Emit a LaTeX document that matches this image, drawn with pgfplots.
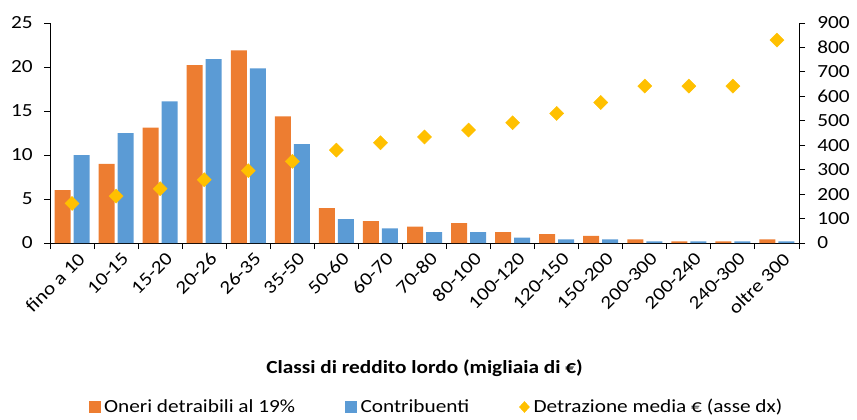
\documentclass[border=0pt]{standalone}
\usepackage{fontspec}
\setmainfont{Carlito}[FakeStretch=1.15]
\usepackage{pgfplots}
\pgfplotsset{compat=1.18}
\definecolor{cOr}{HTML}{ED7D31}
\definecolor{cBl}{HTML}{5B9BD5}
\definecolor{cYe}{HTML}{FFC000}
\begin{document}
\fontsize{18.5pt}{21pt}\selectfont
\begin{tikzpicture}
\path (-50pt,-174pt) rectangle (807pt,243pt);
\begin{axis}[
  scale only axis, width=749pt, height=220pt,
  xmin=-0.5, xmax=16.5, ymin=0, ymax=25,
  axis x line*=bottom, axis y line*=left,
  axis line style={black, line width=0.9pt},
  every tick/.style={black, line width=0.9pt},
  ytick={0,5,...,25},
  xtick={0,...,16},
  xticklabels={fino a 10,10-15,15-20,20-26,26-35,35-50,50-60,60-70,70-80,80-100,100-120,120-150,150-200,200-300,200-240,240-300,oltre 300},
  major x tick style={draw=none},
  minor xtick={-0.5,0.5,...,16.5},
  tick align=outside,
  major tick length=6pt, minor tick length=6pt,
  /pgf/number format/assume math mode=true,
  tick label style={font=\fontsize{18.5pt}{21pt}\selectfont},
  y tick label style={xshift=-5pt},
  x tick label style={rotate=45, anchor=north east, inner sep=1pt, xshift=3pt, yshift=-4pt},
  xlabel={\bfseries Classi di reddito lordo (migliaia di €)},
  every axis x label/.style={at={(rel axis cs:0.5,0)}, anchor=center, yshift=-125pt, font=\fontsize{18.5pt}{21pt}\selectfont},
  legend columns=3,
  legend style={at={(rel axis cs:0.5,0)}, anchor=center, yshift=-164pt, xshift=12pt, draw=none, fill=none,
    font=\fontsize{18.5pt}{21pt}\selectfont,
    /tikz/every odd column/.append style={column sep=2pt},
    /tikz/every even column/.append style={column sep=48pt}},
]
\addplot[ybar, bar width=16pt, bar shift=-9.5pt, fill=cOr, draw=none, forget plot] coordinates {
(0,6.0) (1,9.0) (2,13.1) (3,20.2) (4,21.9) (5,14.4) (6,3.95) (7,2.5) (8,1.85) (9,2.27) (10,1.25) (11,1.02) (12,0.8) (13,0.42) (14,0.19) (15,0.19) (16,0.42)};
\addplot[ybar, bar width=16pt, bar shift=9.5pt, fill=cBl, draw=none, forget plot] coordinates {
(0,10.0) (1,12.5) (2,16.1) (3,20.9) (4,19.85) (5,11.25) (6,2.7) (7,1.67) (8,1.25) (9,1.25) (10,0.6) (11,0.42) (12,0.42) (13,0.19) (14,0.19) (15,0.19) (16,0.19)};
\addlegendimage{legend image code/.code={\fill[cOr] (0pt,-5.5pt) rectangle (11pt,5.5pt);}}
\addlegendentry{Oneri detraibili al 19\%}
\addlegendimage{legend image code/.code={\fill[cBl] (0pt,-5.5pt) rectangle (11pt,5.5pt);}}
\addlegendentry{Contribuenti}
\addlegendimage{legend image code/.code={\fill[cYe] (5pt,-5.5pt) -- (10pt,0pt) -- (5pt,5.5pt) -- (0pt,0pt) -- cycle;}}
\addlegendentry{Detrazione media € (asse dx)}
\end{axis}
\begin{axis}[
  scale only axis, width=749pt, height=220pt,
  xmin=-0.5, xmax=16.5, ymin=0, ymax=900,
  axis x line=none, axis y line*=right,
  axis line style={black, line width=0.9pt},
  every tick/.style={black, line width=0.9pt},
  ytick={0,100,...,900},
  tick align=outside, major tick length=6pt,
  /pgf/number format/assume math mode=true,
  tick label style={font=\fontsize{18.5pt}{21pt}\selectfont},
  y tick label style={xshift=6pt},
]
\addplot[only marks, mark=square*, mark size=5pt, mark options={rotate=45}, color=cYe] coordinates {
(0,162) (1,192) (2,222) (3,259) (4,296) (5,334) (6,380) (7,410) (8,434) (9,462) (10,492) (11,530) (12,575) (13,642) (14,642) (15,642) (16,830)};
\end{axis}
\end{tikzpicture}
\end{document}
